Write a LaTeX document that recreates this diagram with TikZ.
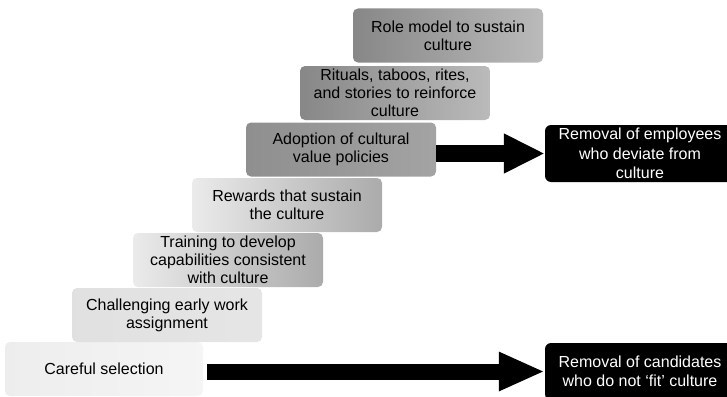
\documentclass[tikz,border=0pt]{standalone}
\usepackage{fontspec}
\setmainfont{Liberation Sans}
\usetikzlibrary{arrows.meta}
\begin{document}
\begin{tikzpicture}[x=1pt,y=-1pt,
  stepbox/.style={rounded corners=5pt, minimum width=190pt, minimum height=54pt,
    inner sep=0pt, align=center, text=black, font=\fontsize{16}{18}\selectfont},
  darkstep/.style={stepbox, left color=black!47, right color=black!27},
  lightstep/.style={stepbox, left color=black!8, right color=black!33},
  outcome/.style={rounded corners=6pt, fill=black, text=white, minimum width=190pt,
    minimum height=57pt, inner sep=0pt, align=center, font=\fontsize{16}{19.5}\selectfont},
  bigarrow/.style={line width=17pt, -{Triangle[length=41pt,width=37pt]}}
]
\useasboundingbox (0,0) rectangle (727,396);

% the staircase of culture-building steps, from bottom to top
\node[stepbox, left color=black!7, right color=black!4, minimum width=198pt] (care) at (104,369) {Careful selection};
\node[stepbox, left color=black!12, middle color=black!26, right color=black!10] (chall) at (167,315) {Challenging early work\\assignment};
\node[lightstep] (train) at (228,260) {Training to develop\\capabilities consistent\\with culture};
\node[lightstep] (rew) at (287,205) {Rewards that sustain\\the culture};
\node[darkstep, left color=black!44, right color=black!36] (adopt) at (341,149.5) {Adoption of cultural\\value policies};
\node[darkstep] (rit) at (395,93) {Rituals, taboos, rites,\\and stories to reinforce\\culture};
\node[darkstep] (role) at (448,35.5) {Role model to sustain\\culture};

% the two removal outcomes
\node[outcome] (emp) at (640,153.5) {Removal of employees\\who deviate from\\culture};
\node[outcome] (sel) at (640,371.5) {Removal of candidates\\who do not `fit' culture};

% arrows leading to the outcomes
\draw[bigarrow] (adopt.east |- emp.west) -- (emp.west);
\draw[bigarrow, line width=16pt, -{Triangle[length=46pt,width=36pt]}]
  ([xshift=4pt]care.east |- sel.west) -- (sel.west);
\end{tikzpicture}
\end{document}
